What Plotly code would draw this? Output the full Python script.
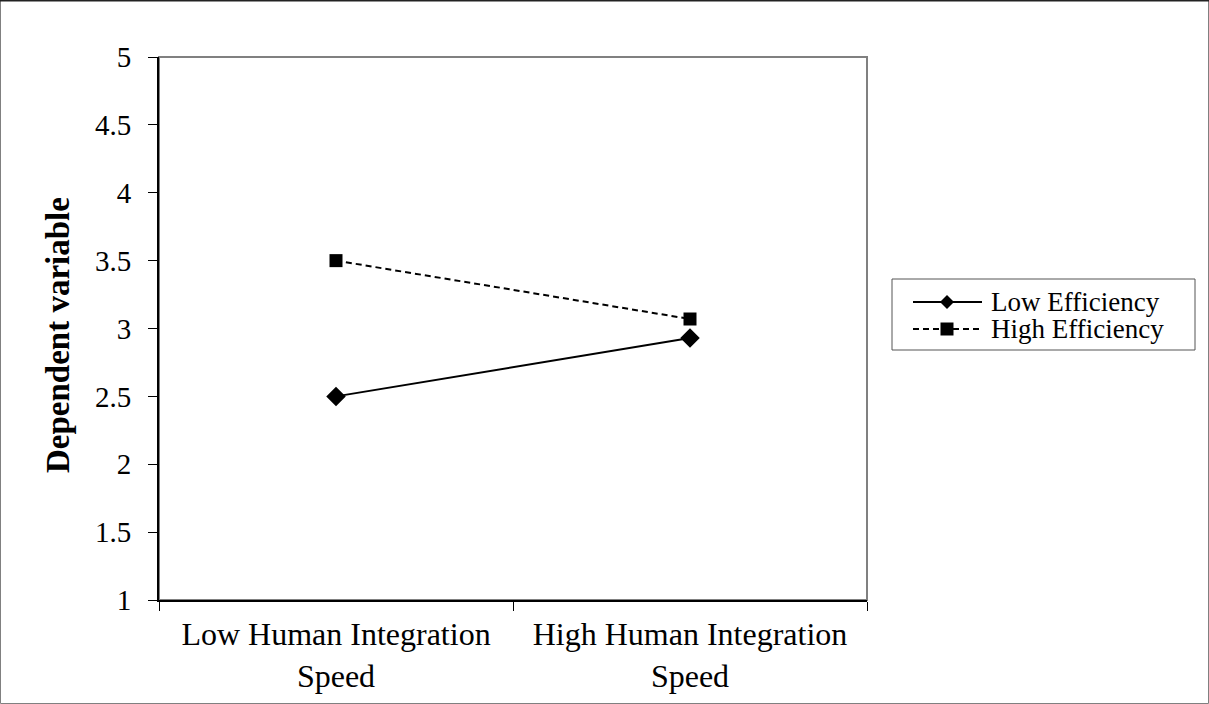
import plotly.graph_objects as go

categories = ["Low Human Integration<br>Speed", "High Human Integration<br>Speed"]
low_eff = [2.5, 2.93]
high_eff = [3.5, 3.07]
series_names = ["Low Efficiency", "High Efficiency"]
y_ticks = [1, 1.5, 2, 2.5, 3, 3.5, 4, 4.5, 5]
y_ticktext = ["1", "1.5", "2", "2.5", "3", "3.5", "4", "4.5", "5"]
y_title = "Dependent variable"

W, H = 1209, 704
L, R, T, B = 159, 1209 - 867, 57, 704 - 600
PW, PH = W - L - R, H - T - B
FONT = "Liberation Serif, Times New Roman, serif"


def px(xp):
    return (xp - L) / PW


def py(yp):
    return (H - B - yp) / PH


fig = go.Figure()
fig.add_trace(go.Scatter(
    x=categories, y=low_eff, name=series_names[0], mode="lines+markers",
    line=dict(color="black", width=2),
    marker=dict(symbol="diamond", size=15, color="black"),
    showlegend=False))
fig.add_trace(go.Scatter(
    x=categories, y=high_eff, name=series_names[1], mode="lines+markers",
    line=dict(color="black", width=2, dash="6px,4px"),
    marker=dict(symbol="square", size=13, color="black"),
    showlegend=False))

shapes = []
# outer chart border
shapes.append(dict(type="rect", xref="paper", yref="paper",
                   x0=px(0.5), x1=px(W - 0.5), y0=py(H - 0.5), y1=py(0.5),
                   line=dict(color="#808080", width=1), layer="below"))
shapes.append(dict(type="line", xref="paper", yref="paper",
                   x0=px(0), x1=px(W), y0=py(0.5), y1=py(0.5),
                   line=dict(color="#222222", width=2), layer="below"))
# plot area frame (gray top/right)
shapes.append(dict(type="rect", xref="paper", yref="paper",
                   x0=0, x1=1, y0=0, y1=1,
                   line=dict(color="#808080", width=2), layer="below"))

# custom legend
lx0, lx1, ly0, ly1 = 892, 1195, 279, 350
shapes.append(dict(type="rect", xref="paper", yref="paper",
                   x0=px(lx0), x1=px(lx1), y0=py(ly1), y1=py(ly0),
                   line=dict(color="#555555", width=1), fillcolor="white"))
item_y = [302, 329]
sx0, sx1, smid = 913, 982, 947
dashes = [None, "6px,4px"]
for i, yy in enumerate(item_y):
    ln = dict(color="black", width=2)
    if dashes[i]:
        ln["dash"] = dashes[i]
    shapes.append(dict(type="line", xref="paper", yref="paper",
                       x0=px(sx0), x1=px(sx1), y0=py(yy), y1=py(yy), line=ln))
# diamond marker
d = 7
shapes.append(dict(type="path", xref="paper", yref="paper",
                   path=f"M {px(smid - d)},{py(item_y[0])} L {px(smid)},{py(item_y[0] - d)} "
                        f"L {px(smid + d)},{py(item_y[0])} L {px(smid)},{py(item_y[0] + d)} Z",
                   fillcolor="black", line=dict(color="black", width=0)))
s = 6.5
shapes.append(dict(type="rect", xref="paper", yref="paper",
                   x0=px(smid - s), x1=px(smid + s), y0=py(item_y[1] + s), y1=py(item_y[1] - s),
                   fillcolor="black", line=dict(color="black", width=0)))

annotations = []
for i, yy in enumerate(item_y):
    annotations.append(dict(xref="paper", yref="paper", x=px(989), y=py(yy),
                            text=series_names[i], showarrow=False,
                            xanchor="left", yanchor="middle",
                            font=dict(family=FONT, size=27, color="black")))
# y-axis title
annotations.append(dict(xref="paper", yref="paper", x=px(58), y=py(335),
                        text=f"<b>{y_title}</b>", showarrow=False, textangle=-90,
                        xanchor="center", yanchor="middle",
                        font=dict(family=FONT, size=33, color="black")))

fig.update_layout(
    width=W, height=H,
    margin=dict(l=L, r=R, t=T, b=B, autoexpand=False),
    paper_bgcolor="white", plot_bgcolor="white",
    font=dict(family=FONT, color="black"),
    shapes=shapes, annotations=annotations,
    showlegend=False,
    xaxis=dict(type="category", range=[-0.5, 1.5], tickson="boundaries",
               ticks="outside", ticklen=9, tickwidth=1, tickcolor="black",
               showline=True, linecolor="black", linewidth=2,
               showgrid=False, zeroline=False, ticklabelstandoff=5,
               tickfont=dict(family=FONT, size=32, color="black"),
               fixedrange=True),
    yaxis=dict(range=[1, 5], tickmode="array", tickvals=y_ticks, ticktext=y_ticktext,
               ticks="outside", ticklen=9, tickwidth=1, tickcolor="black",
               showline=True, linecolor="black", linewidth=2,
               showgrid=False, zeroline=False, ticklabelstandoff=11,
               tickfont=dict(family=FONT, size=29, color="black"),
               automargin=False, fixedrange=True),
)

fig.write_html("out.html", config={"displayModeBar": False},
               post_script="document.body.style.margin='0px';")
